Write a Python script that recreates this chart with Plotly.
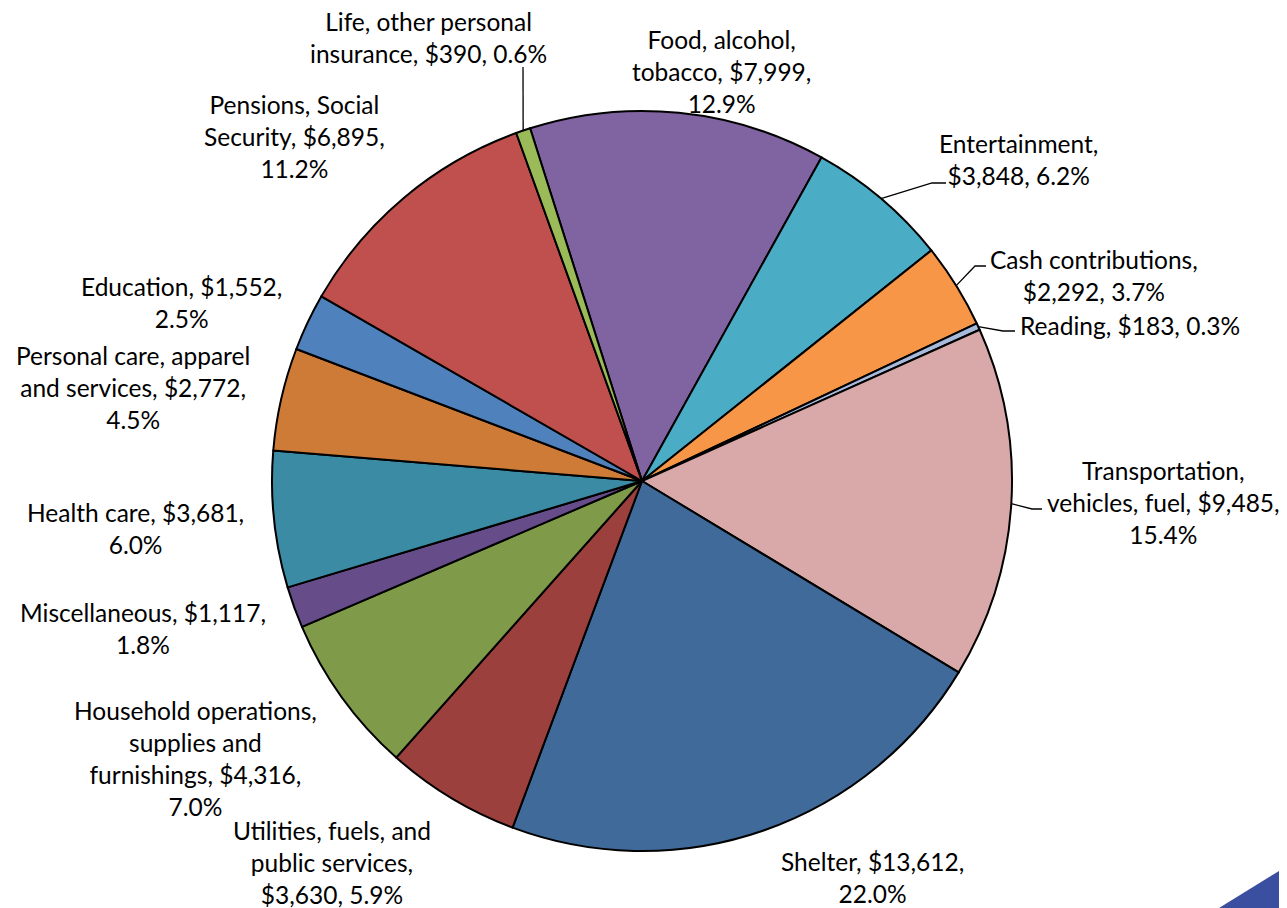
import math
import plotly.graph_objects as go

# page body has an 8px margin, so the figure is drawn 8px in from the window corner
PAGE_W, PAGE_H = 1287, 908
OFF = 8
W, H = PAGE_W - OFF, PAGE_H - OFF

# ---------------- data ----------------
categories = [
    "Food, alcohol, tobacco", "Entertainment", "Cash contributions", "Reading",
    "Transportation, vehicles, fuel", "Shelter", "Utilities, fuels, and public services",
    "Household operations, supplies and furnishings", "Miscellaneous", "Health care",
    "Personal care, apparel and services", "Education", "Pensions, Social Security",
    "Life, other personal insurance",
]
values = [7999, 3848, 2292, 183, 9485, 13612, 3630, 4316, 1117, 3681, 2772, 1552, 6895, 390]
label_templates = [
    "Food, alcohol,<br>tobacco, {v},<br>{p}",
    "Entertainment,<br>{v}, {p}",
    "Cash contributions,<br>{v}, {p}",
    "Reading, {v}, {p}",
    "Transportation,<br>vehicles, fuel, {v},<br>{p}",
    "Shelter, {v},<br>{p}",
    "Utilities, fuels, and<br>public services,<br>{v}, {p}",
    "Household operations,<br>supplies and<br>furnishings, {v},<br>{p}",
    "Miscellaneous, {v},<br>{p}",
    "Health care, {v},<br>{p}",
    "Personal care, apparel<br>and services, {v},<br>{p}",
    "Education, {v},<br>{p}",
    "Pensions, Social<br>Security, {v},<br>{p}",
    "Life, other personal<br>insurance, {v}, {p}",
]

# ---------------- styles / layout ----------------
colors = ["#8064A2", "#4BACC6", "#F79646", "#A7BADB", "#D9A9AA", "#3F6A9A", "#9C403E",
          "#7F9A48", "#664C89", "#3B8BA4", "#CD7B37", "#4F81BD", "#C0504D", "#9BBB59"]

# all positions below are in window pixels (top-left origin)
CX, CY, R = 642, 481, 370     # pie centre / radius
ROTATION = -17.6

label_pos = [(721, 71), (1018, 160), (1094, 276), (1130, 326), (1163, 502), (872, 877),
             (332, 862), (195, 758), (143, 628), (135, 528), (133, 387), (181, 302),
             (294, 136), (428, 37)]
leaders = {
    1: [(946, 183), (932, 183)],
    2: [(986, 266), (975, 266)],
    3: [(1015, 331), (1003, 331)],
    4: [(1042, 509), (1032, 509)],
    13: [(523, 67)],
}
FONT = dict(family="Lato, Calibri, Carlito, sans-serif", size=24.5, color="#000000")


def px(x):
    return (x - OFF) / W


def py(y):
    return 1 - (y - OFF) / H


total = sum(values)

fig = go.Figure()
fig.add_trace(go.Pie(
    labels=categories,
    values=values,
    sort=False,
    direction="clockwise",
    rotation=ROTATION,
    marker=dict(colors=colors, line=dict(color="#000000", width=2)),
    textinfo="none",
    hoverinfo="label+value+percent",
    showlegend=False,
    domain=dict(x=[px(CX - R), px(CX + R)], y=[py(CY + R), py(CY - R)]),
))

annotations = []
for i, (tpl, v) in enumerate(zip(label_templates, values)):
    txt = tpl.format(v="${:,}".format(v), p="{:.1f}%".format(v / total * 100))
    lx, ly = label_pos[i]
    annotations.append(dict(
        x=px(lx), y=py(ly), xref="paper", yref="paper", text=txt, showarrow=False,
        xanchor="center", yanchor="middle", align="center", font=FONT,
    ))

shapes = []
cum = 0.0
mids = []
for v in values:
    mids.append(math.radians(ROTATION + (cum + v / 2) / total * 360))
    cum += v
for i, pts in leaders.items():
    a = mids[i]
    ex, ey = CX + R * math.sin(a), CY - R * math.cos(a)
    allpts = pts + [(ex, ey)]
    path = "M " + " L ".join("{:.5f},{:.5f}".format(px(x), py(y)) for x, y in allpts)
    shapes.append(dict(type="path", xref="paper", yref="paper", path=path,
                       line=dict(color="#000000", width=1.3)))

# decorative corner triangle of the slide
shapes.append(dict(type="path", xref="paper", yref="paper",
                   path="M {},{} L {},{} L {},{} Z".format(px(1219), py(908), px(1287), py(866),
                                                          px(1287), py(908)),
                   fillcolor="#3B4FA0", line=dict(width=0)))

fig.update_layout(
    width=W, height=H,
    margin=dict(l=0, r=0, t=0, b=0),
    paper_bgcolor="#FFFFFF",
    plot_bgcolor="#FFFFFF",
    annotations=annotations,
    shapes=shapes,
)

fig.write_html("out.html")
